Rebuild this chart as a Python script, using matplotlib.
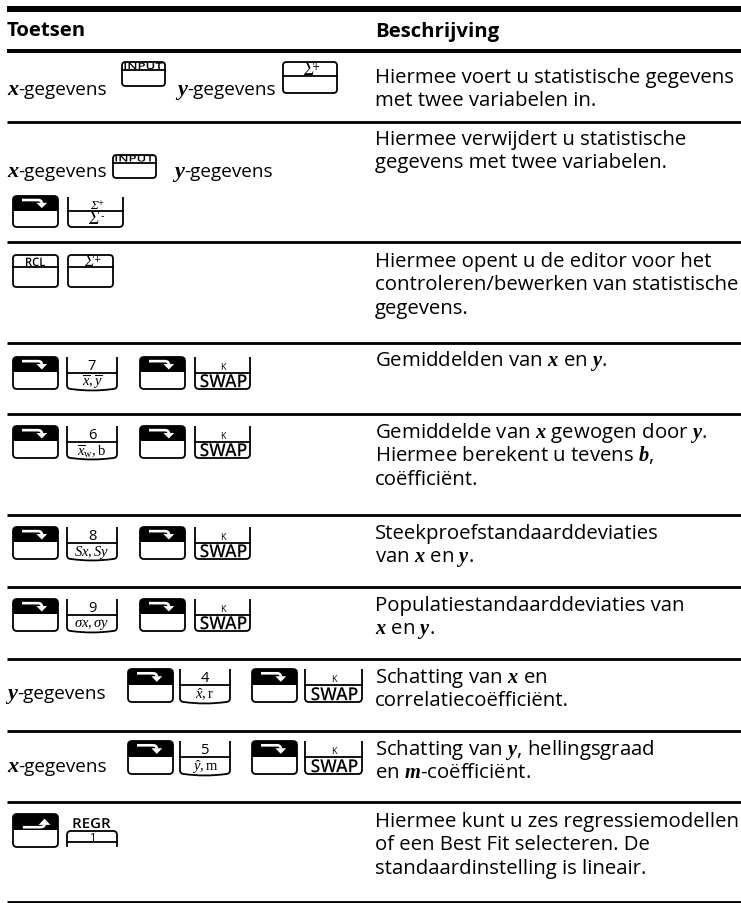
import matplotlib.pyplot as plt
from matplotlib.patches import FancyBboxPatch, Rectangle, PathPatch, Polygon
from matplotlib.path import Path
from matplotlib.textpath import TextPath
from matplotlib.font_manager import FontProperties
from matplotlib.transforms import Affine2D

plt.rcParams['font.family'] = ['Open Sans', 'DejaVu Sans']
plt.rcParams['mathtext.fontset'] = 'custom'
plt.rcParams['mathtext.rm'] = 'Liberation Serif'
plt.rcParams['mathtext.it'] = 'Liberation Serif:italic'
plt.rcParams['mathtext.bf'] = 'Liberation Serif:italic:bold'

# ---- content ----
headers = ['Toetsen', 'Beschrijving']

descriptions = [
    ['Hiermee voert u statistische gegevens', 'met twee variabelen in.'],
    ['Hiermee verwijdert u statistische', 'gegevens met twee variabelen.'],
    ['Hiermee opent u de editor voor het', 'controleren/bewerken van statistische', 'gegevens.'],
    [r'Gemiddelden van $\mathbf{x}$ en $\mathbf{y}$.'],
    [r'Gemiddelde van $\mathbf{x}$ gewogen door $\mathbf{y}$.',
     r'Hiermee berekent u tevens $\mathbf{b}$,', 'coëfficiënt.'],
    ['Steekproefstandaarddeviaties', r'van $\mathbf{x}$ en $\mathbf{y}$.'],
    ['Populatiestandaarddeviaties van', r'$\mathbf{x}$ en $\mathbf{y}$.'],
    [r'Schatting van $\mathbf{x}$ en', 'correlatiecoëfficiënt.'],
    [r'Schatting van $\mathbf{y}$, hellingsgraad', r'en $\mathbf{m}$-coëfficiënt.'],
    ['Hiermee kunt u zes regressiemodellen', 'of een Best Fit selecteren. De',
     'standaardinstelling is lineair.'],
]

SWAP = ('K', 'SWAP')

key_rows = [
    [('var', 'x'), ('box', 'INPUT'), ('var', 'y'), ('box', 'Σ+')],
    [('var', 'x'), ('box', 'INPUT'), ('var', 'y'), ('shift', 'down'), ('ukey', ('Σ+', 'Σ-'))],
    [('box', 'RCL'), ('box', 'Σ+')],
    [('shift', 'down'), ('ukey', ('7', r'$\overline{x},\overline{y}$')), ('shift', 'down'), ('ukey', SWAP)],
    [('shift', 'down'), ('ukey', ('6', r'$\overline{x}_{\mathrm{w}},\mathrm{b}$')), ('shift', 'down'), ('ukey', SWAP)],
    [('shift', 'down'), ('ukey', ('8', r'$Sx,Sy$')), ('shift', 'down'), ('ukey', SWAP)],
    [('shift', 'down'), ('ukey', ('9', r'$\sigma x,\sigma y$')), ('shift', 'down'), ('ukey', SWAP)],
    [('var', 'y'), ('shift', 'down'), ('ukey', ('4', r'$\hat{x},\mathrm{r}$')), ('shift', 'down'), ('ukey', SWAP)],
    [('var', 'x'), ('shift', 'down'), ('ukey', ('5', r'$\hat{y},\mathrm{m}$')), ('shift', 'down'), ('ukey', SWAP)],
    [('shift', 'up'), ('regr', ('REGR', '1'))],
]

# ---- layout (pixels, y downwards) ----
W, H = 741, 904
rule_y = [9.5, 52, 123, 243, 344, 415, 516, 588, 660, 732, 803, 902.5]
rule_px = [6, 4] + [2.8] * 10
desc_x = 375
desc_first = [78, 140, 262, 361, 433, 534, 606, 678, 750, 822]
line_gap = 23.3
PT = 0.72  # points per pixel
LW = 1.3

key_pos = [
    [(7, 90), (122, 63, 43, 24, 8), (177, 90), (283, 63, 54, 31, 14)],
    [(7, 172), (113, 156, 43, 23, 7.5), (174, 172), (13, 197, 45, 31), (68, 198, 55, 30, 14)],
    [(13, 256, 45, 32, 12), (68, 256, 45, 32, 12)],
]
for top in [358, 427, 528, 600]:
    key_pos.append([(13, top, 45, 32), (67, top, 50, 32, 16), (140, top, 45, 32), (195, top, 55, 32, 16)])
for top, ty in [(670, 694), (742, 767)]:
    key_pos.append([(7, ty), (128, top, 45, 33), (180, top, 50, 33, 16), (252, top, 45, 33), (305, top, 57, 33, 16)])
key_pos.append([(13, 815, 45, 33), (67, 832, 50, 16, 11)])

# label sizes (width, cap height) in pixels for the printed key names
label_fit = {'INPUT': (38, 6.2), 'RCL': (19, 8.5), 'SWAP': (46, 13), 'REGR': (37, 10)}

fig = plt.figure(figsize=(W / 100, H / 100), dpi=100)
ax = fig.add_axes([0, 0, 1, 1])
ax.set_xlim(0, W)
ax.set_ylim(H, 0)
ax.axis('off')
renderer = fig.canvas.get_renderer()


def fit_size(s, width, base=13, **kw):
    probe = ax.text(0, 0, s, fontsize=base, **kw)
    pw = probe.get_window_extent(renderer).width
    probe.remove()
    return base * width / pw


# font sizes chosen so text spans the same width as in the print
FS = fit_size(descriptions[0][0], 358)
FS_LEFT = fit_size('-gegevens', 88)


def fit_label(xc, y_base, s):
    width, cap = label_fit[s]
    tp = TextPath((0, 0), s, size=10, prop=FontProperties(family='Open Sans', weight='semibold'))
    bb = tp.get_extents()
    tr = (Affine2D().translate(-bb.x0 - bb.width / 2, 0)
          .scale(width / bb.width, -cap / bb.y1).translate(xc, y_base))
    ax.add_patch(PathPatch(tr.transform_path(tp), fc='black', ec='none', lw=0))


def sigma_label(xc, yc, s, fs):
    ax.text(xc - 0.15 * fs, yc, 'Σ', fontfamily='Liberation Serif', fontstyle='italic',
            fontsize=fs, ha='center', va='center')
    ax.text(xc + 0.5 * fs, yc - 0.3 * fs, s[1], fontfamily='DejaVu Sans',
            fontsize=fs * 0.55, ha='center', va='center')


def var_text(x, y, var):
    t = ax.text(x, y + 5, var, fontfamily='Liberation Serif', fontstyle='italic',
                fontweight='bold', fontsize=16, va='baseline')
    bb = t.get_window_extent(renderer)
    x_end = ax.transData.inverted().transform((bb.x1, bb.y0))[0]
    ax.text(x_end, y + 5, '-gegevens', fontsize=FS_LEFT, va='baseline')


def box_key(x0, y0, w, h, sep, label):
    ax.add_patch(FancyBboxPatch((x0, y0), w, h, boxstyle='round,pad=0,rounding_size=3.5',
                                fc='white', ec='black', lw=LW))
    ax.plot([x0, x0 + w], [y0 + sep] * 2, color='black', lw=LW)
    if label in label_fit:
        fit_label(x0 + w / 2, y0 + sep - 1.0, label)
    else:
        sigma_label(x0 + w / 2, y0 + sep / 2 + 0.5, label, 13 if sep > 12 else 11.5)


def shift_key(x0, y0, w, h, direction):
    box = FancyBboxPatch((x0, y0), w, h, boxstyle='round,pad=0,rounding_size=4',
                         fc='white', ec='black', lw=LW, zorder=2)
    ax.add_patch(box)
    top = Rectangle((x0, y0), w, h * 0.48, fc='black', ec='none', zorder=3)
    ax.add_patch(top)
    top.set_clip_path(box)
    if direction == 'down':
        verts = [(0.2, 0.13), (0.55, 0.13), (0.64, 0.13), (0.64, 0.23)]
        head = [(0.52, 0.22), (0.76, 0.22), (0.64, 0.39)]
    else:
        verts = [(0.22, 0.40), (0.6, 0.40), (0.7, 0.40), (0.7, 0.32)]
        head = [(0.57, 0.33), (0.83, 0.33), (0.70, 0.14)]
    verts = [(x0 + a * w, y0 + b * h) for a, b in verts]
    head = [(x0 + a * w, y0 + b * h) for a, b in head]
    p = Path(verts, [Path.MOVETO, Path.LINETO, Path.CURVE3, Path.CURVE3])
    ax.add_patch(PathPatch(p, fill=False, ec='white', lw=1.9, zorder=4))
    ax.add_patch(Polygon(head, closed=True, fc='white', ec='none', zorder=4))


def u_key(x0, y0, w, h, sep, labels):
    x1, y1 = x0 + w, y0 + h
    r = 4
    top, bot = labels
    curved = top not in ('K', 'Σ+')
    verts = [(x0, y0), (x0, y1 - r), (x0, y1), (x0 + r, y1)]
    codes = [Path.MOVETO, Path.LINETO, Path.CURVE3, Path.CURVE3]
    if curved:
        verts += [(x0 + w / 2, y1 + 3), (x1 - r, y1)]
        codes += [Path.CURVE3, Path.CURVE3]
    else:
        verts += [(x1 - r, y1)]
        codes += [Path.LINETO]
    verts += [(x1, y1), (x1, y1 - r), (x1, y0)]
    codes += [Path.CURVE3, Path.CURVE3, Path.LINETO]
    ax.add_patch(PathPatch(Path(verts, codes), fill=False, ec='black', lw=LW))
    ax.plot([x0, x1], [y0 + sep] * 2, color='black', lw=LW)
    xm = x0 + w / 2
    if top == 'K':
        ax.text(xm, y0 + sep / 2 + 1.5, top, ha='center', va='center', fontsize=6.5)
        fit_label(xm + 1, y1 - 1.8, bot)
    elif top == 'Σ+':
        sigma_label(xm, y0 + sep / 2 + 1, top, 9.5)
        sigma_label(xm, y0 + sep + (h - sep) / 2, bot, 13)
    else:
        ax.text(xm, y0 + sep / 2 + 1, top, ha='center', va='center', fontsize=10.5)
        ax.text(xm, y0 + sep + (h - sep) / 2 + 0.5, bot, ha='center', va='center', fontsize=10.5)


def regr_key(x0, y0, w, h, sep, labels):
    x1, y1 = x0 + w, y0 + h
    r = 4
    verts = [(x0, y1), (x0, y0 + r), (x0, y0), (x0 + r, y0), (x1 - r, y0),
             (x1, y0), (x1, y0 + r), (x1, y1)]
    codes = [Path.MOVETO, Path.LINETO, Path.CURVE3, Path.CURVE3, Path.LINETO,
             Path.CURVE3, Path.CURVE3, Path.LINETO]
    ax.add_patch(PathPatch(Path(verts, codes), fill=False, ec='black', lw=LW))
    ax.plot([x0, x1], [y0 + sep] * 2, color='black', lw=LW)
    xm = x0 + w / 2
    fit_label(xm, y0 - 3, labels[0])
    ax.text(xm, y0 + sep / 2 + 0.8, labels[1], ha='center', va='center', fontsize=8)


# rules
for y, px in zip(rule_y, rule_px):
    ax.plot([7, W], [y, y], color='black', lw=px * PT, solid_capstyle='butt')

# header
ax.text(7, 36.5, headers[0], fontsize=FS, fontweight='bold', va='baseline')
ax.text(desc_x, 36.5, headers[1], fontsize=FS, fontweight='bold', va='baseline')

# descriptions
for first, lines in zip(desc_first, descriptions):
    for j, line in enumerate(lines):
        ax.text(desc_x, first + 5 + j * line_gap, line, fontsize=FS, va='baseline')

# keys column
for items, pos in zip(key_rows, key_pos):
    for (kind, val), p in zip(items, pos):
        if kind == 'var':
            var_text(p[0], p[1], val)
        elif kind == 'box':
            box_key(*p, val)
        elif kind == 'shift':
            shift_key(*p, val)
        elif kind == 'ukey':
            u_key(*p, val)
        elif kind == 'regr':
            regr_key(*p, val)

fig.savefig('out.png', dpi=100, facecolor='white')
